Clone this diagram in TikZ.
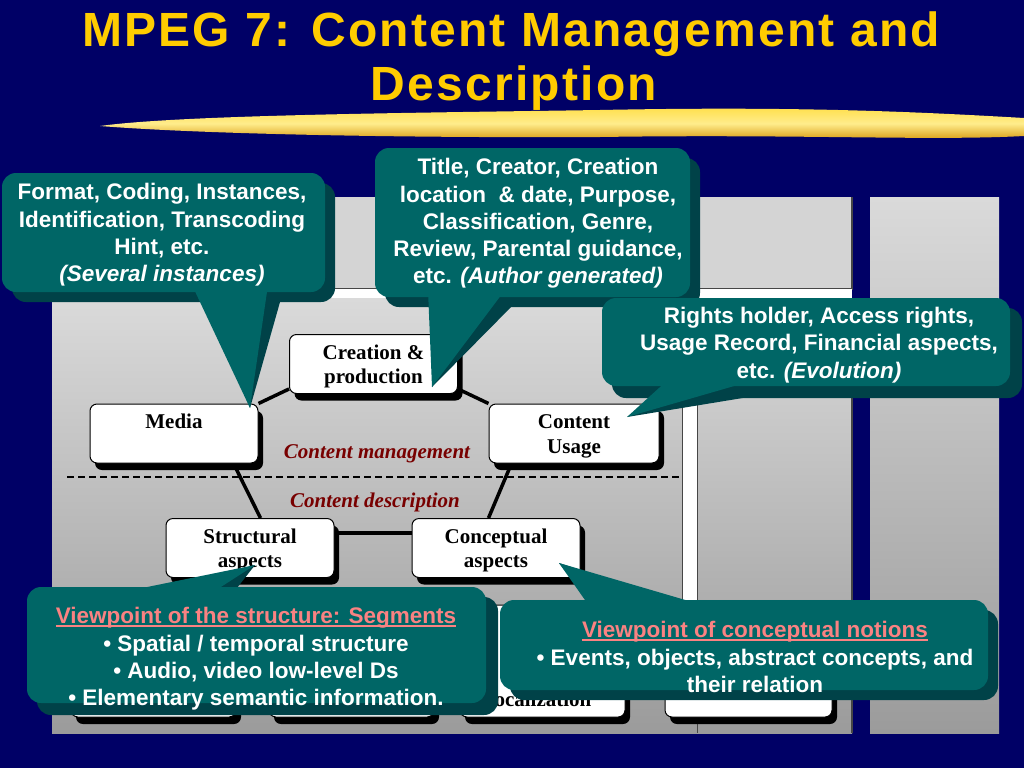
\documentclass[tikz,border=0pt]{standalone}
\usepackage{fontspec}
\setmainfont{Liberation Serif}
\newfontfamily\sansf{Liberation Sans}
\newfontfamily\titlef[LetterSpace=4.6]{Liberation Sans}
\usetikzlibrary{shadows,calc}
\pgfdeclarelayer{bg}
\pgfdeclarelayer{lines}
\pgfsetlayers{bg,lines,main}
\definecolor{navy}{RGB}{0,0,102}
\definecolor{tealface}{RGB}{0,102,102}
\definecolor{tealdark}{RGB}{0,66,72}
\definecolor{titley}{RGB}{255,204,0}
\definecolor{salmon}{RGB}{250,130,130}
\definecolor{dred}{RGB}{120,0,0}
\definecolor{panelg}{RGB}{212,212,212}
\definecolor{paneltop}{RGB}{218,218,218}
\definecolor{panelbot}{RGB}{155,155,155}
\definecolor{brushA}{RGB}{255,222,70}
\definecolor{brushM}{RGB}{255,236,140}
\definecolor{brushB}{RGB}{214,150,10}
\definecolor{edgeg}{RGB}{70,70,70}
\newcommand\ulx[1]{\setbox0\hbox{#1}\rlap{\color{salmon}\rule[-3pt]{\wd0}{1.6pt}}\box0}
\newcommand\bxt[2]{\raisebox{-2.5pt}[\height][\depth]{\renewcommand\arraystretch{1}\begin{tabular}{@{}c@{}}#1\\#2\end{tabular}}}
\begin{document}
\begin{tikzpicture}[x=1pt,y=-1pt,
  box/.style={draw=black, line width=1pt, fill=white, rounded corners=7pt,
    drop shadow={shadow xshift=5pt, shadow yshift=-7pt, fill=black, opacity=1},
    font=\bfseries\fontsize{21}{24.5}\selectfont, inner sep=0pt,
    minimum width=168pt, minimum height=59pt},
  bigbox/.style={box, minimum width=165pt, minimum height=112pt},
  conn/.style={line width=3.5pt, draw=black},
  bubtext/.style={text=white, font=\sansf\bfseries\fontsize{22.5}{27.3}\selectfont, align=center, inner sep=0pt},
  face/.style={fill=tealface},
  bshade/.style={fill=tealdark},
  sectlabel/.style={font=\bfseries\itshape\fontsize{21}{24}\selectfont, text=dred, anchor=base, inner sep=0pt},
  titletext/.style={font=\titlef\bfseries\fontsize{48}{54}\selectfont, text=titley, anchor=base, inner sep=0pt}
]
\useasboundingbox (0,0) rectangle (1024,768);
\begin{pgfonlayer}{bg}
\fill[navy] (0,0) rectangle (1024,768);
% brush stroke
\shade[top color=brushA, bottom color=brushB, middle color=brushM]
  (100,126) .. controls (180,115) and (400,113) .. (600,110)
  .. controls (800,106) and (920,112) .. (1024,118)
  -- (1024,136) .. controls (930,141) and (800,134) .. (600,137)
  .. controls (400,138) and (200,134) .. cycle;
% panels
\fill[panelg] (52,197) rectangle (852,289);
\draw[edgeg, line width=1.2pt] (52,289) -- (852,289) -- (852,197);
\fill[white] (52,289) rectangle (852,298);
\shade[top color=paneltop, bottom color=panelbot] (52,298) rectangle (852,733);
\fill[white] (682,298) rectangle (697,650);
\draw[edgeg, line width=0.8pt] (682,298) -- (682,650);
\draw[edgeg, line width=0.8pt] (697,298) -- (697,733);
\draw[edgeg, line width=1.2pt] (852,298) -- (852,733);
\shade[top color=paneltop, bottom color=panelbot] (870,197) rectangle (999,733);
% dashed separator
\coordinate (dashL) at (67,477);
\coordinate (dashR) at (680,477);
\draw[line width=1.2pt, dash pattern=on 7pt off 4pt] (dashL) -- (dashR);
\end{pgfonlayer}

% title
\node[titletext] (title1) at (511,46) {MPEG 7: Content Management and};
\node[titletext] (title2) at (514,100) {Description};

% diagram boxes
\node[box] (creation) at (373.5,364) {\bxt{Creation \&}{production}};
\node[box] (media) at (174,433.5) {\bxt{Media}{~}};
\node[box, minimum width=170pt] (usage) at (574,433.5) {\bxt{Content}{Usage}};
\node[box] (struct) at (250,548) {\bxt{Structural}{aspects}};
\node[box] (concept) at (496,548) {\bxt{Conceptual}{aspects}};

\begin{pgfonlayer}{lines}
\draw[conn] (media.north east) -- ([yshift=5pt]creation.south west);
\draw[conn] ([yshift=5pt]creation.south east) -- (usage.north west);
\draw[conn] ([xshift=-25pt]media.south east) -- ([xshift=-74pt]struct.north east);
\draw[conn] ([xshift=23pt]usage.south west) -- ([xshift=-92pt]concept.north east);
\draw[conn] ([yshift=15pt]struct.east) -- ([yshift=15pt]concept.west);
\end{pgfonlayer}

\node[sectlabel] (cmgmt) at (377,458) {Content management};
\node[sectlabel] (cdesc) at (375,507) {Content description};

% bottom row boxes
\node[bigbox] (bb1) at (153.5,661) {};
\node[bigbox] (bb2) at (351.5,661) {};
\node[bigbox] (bb3) at (542.5,661) {};
\node[bigbox, minimum width=167pt] (bb4) at (748.5,661) {};
\node[font=\bfseries\fontsize{21}{24.5}\selectfont, anchor=base, inner sep=0pt] (loc) at (540,706) {localization};

% callout 1
\fill[bshade, rounded corners=14pt] (12,183) rectangle (335,302);
\fill[bshade] (204,295) -- (282,295) -- (250,408) -- cycle;
\fill[face, rounded corners=14pt] (2,173) rectangle (325,292);
\fill[face] (192,285) -- (268,285) -- (250,408) -- cycle;
\node[bubtext] (b1) at (162,235) {Format, Coding, Instances,\\Identification, Transcoding\\Hint, etc.\\\textit{(Several instances)}};

% callout 2
\fill[bshade, rounded corners=14pt] (385,158) rectangle (700,307);
\fill[bshade] (440,300) -- (518,300) -- (432,387) -- cycle;
\fill[face, rounded corners=14pt] (375,148) rectangle (690,297);
\fill[face] (428,290) -- (505,290) -- (432,387) -- cycle;
\node[bubtext] (b2) at (538,223.5) {Title, Creator, Creation\\location \ \& date, Purpose,\\Classification, Genre,\\Review, Parental guidance,\\etc. \textit{(Author generated)}};

% callout 3
\fill[bshade, rounded corners=14pt] (612,308) rectangle (1022,398);
\fill[bshade] (682,390) -- (767,394) -- (627,417) -- cycle;
\fill[face, rounded corners=14pt] (602,298) rectangle (1010,386);
\fill[face] (670,378) -- (748,382) -- (627,417) -- cycle;
\node[bubtext] (b3) at (819,345) {Rights holder, Access rights,\\Usage Record, Financial aspects,\\etc. \textit{(Evolution)}};

% callout 4
\fill[bshade, rounded corners=14pt] (37,597) rectangle (498,715);
\fill[bshade] (125,602) -- (226,602) -- (255,565) -- cycle;
\fill[face, rounded corners=14pt] (27,587) rectangle (486,703);
\fill[face] (113,594) -- (210,594) -- (255,565) -- cycle;
\node[bubtext] (b4) at (256,659) {\ulx{\textcolor{salmon}{Viewpoint of the structure: Segments}}\\[0.2pt]\textbullet\ Spatial / temporal structure\\\textbullet\ Audio, video low-level Ds\\\textbullet\ Elementary semantic information.};

% callout 5
\fill[bshade, rounded corners=14pt] (510,610) rectangle (998,700);
\fill[bshade] (604,620) -- (711,614) -- (559,563) -- cycle;
\fill[face, rounded corners=14pt] (500,600) rectangle (988,690);
\fill[face] (592,610) -- (699,604) -- (559,563) -- cycle;
\node[bubtext] (b5) at (755,657) {\ulx{\textcolor{salmon}{Viewpoint of conceptual notions}}\\\textbullet\ Events, objects, abstract concepts, and\\their relation};
\end{tikzpicture}
\end{document}
